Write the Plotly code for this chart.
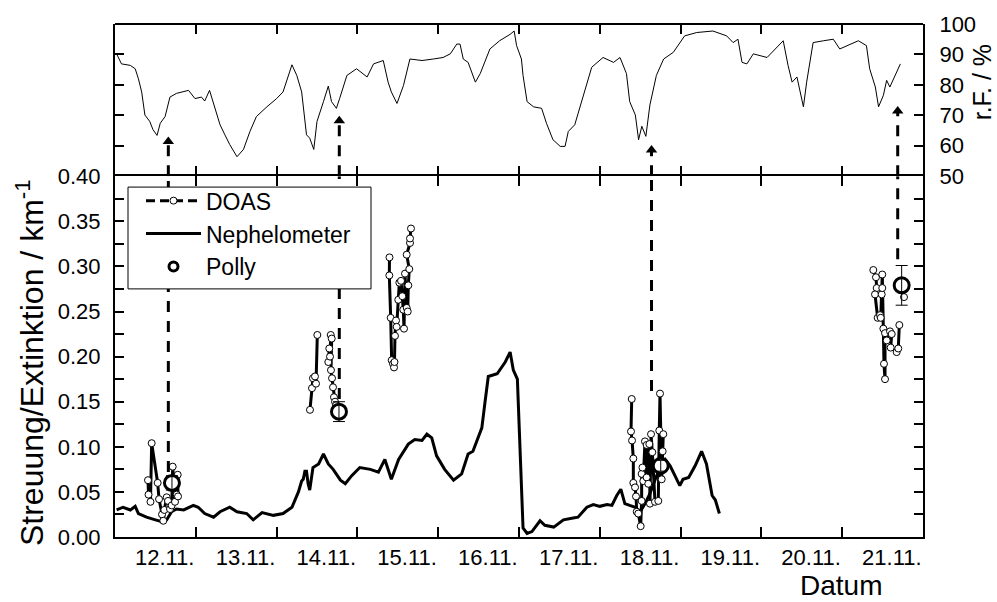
import plotly.graph_objects as go

# ---------------- data ----------------
# relative humidity (top panel)
rh_day = [12.02, 12.08, 12.19, 12.25, 12.29, 12.33, 12.37, 12.43, 12.47, 12.52, 12.56, 12.62, 12.68, 12.76,
          12.91, 12.99, 13.07, 13.11, 13.17, 13.22, 13.30, 13.36, 13.42, 13.51, 13.59, 13.67, 13.75, 13.88,
          14.00, 14.08, 14.19, 14.25, 14.31, 14.37, 14.41, 14.46, 14.50, 14.58, 14.64, 14.68, 14.74, 14.78,
          14.87, 14.99, 15.12, 15.20, 15.32, 15.38, 15.42, 15.49, 15.57, 15.65, 15.80, 15.94, 16.06, 16.15,
          16.23, 16.27, 16.31, 16.37, 16.46, 16.52, 16.64, 16.76, 16.89, 16.94, 16.97, 17.03, 17.05, 17.10,
          17.18, 17.28, 17.34, 17.42, 17.51, 17.57, 17.61, 17.69, 17.80, 17.90, 18.04, 18.17, 18.25, 18.33,
          18.37, 18.44, 18.48, 18.52, 18.57, 18.62, 18.70, 18.79, 18.91, 19.05, 19.20, 19.40, 19.57, 19.65,
          19.71, 19.76, 19.82, 19.90, 20.07, 20.17, 20.27, 20.33, 20.38, 20.44, 20.48, 20.52, 20.56, 20.64,
          20.77, 20.89, 20.97, 21.10, 21.20, 21.30, 21.34, 21.41, 21.45, 21.51, 21.55, 21.59, 21.65, 21.72]
rh_val = [90.2, 86.9, 86.4, 85.3, 82.0, 77.7, 70.1, 68.0, 65.3, 63.4, 67.4, 69.6, 76.0, 77.2,
          78.2, 75.5, 76.0, 74.7, 78.2, 73.9, 66.9, 63.6, 60.4, 56.4, 58.8, 64.7, 69.6, 72.8,
          75.5, 77.7, 86.6, 83.1, 77.7, 63.6, 62.5, 58.8, 68.0, 74.5, 79.6, 74.5, 72.3, 75.5,
          83.1, 85.3, 82.6, 86.9, 88.0, 80.9, 77.7, 73.9, 79.8, 88.5, 88.0, 88.5, 89.0, 90.2,
          93.4, 93.4, 88.5, 87.4, 80.9, 83.7, 91.8, 94.5, 96.6, 97.7, 92.9, 88.5, 83.1, 74.5,
          72.8, 72.3, 67.4, 62.0, 59.8, 59.8, 64.7, 66.9, 76.6, 85.8, 89.0, 87.4, 89.0, 83.7,
          74.5, 70.1, 62.0, 66.4, 63.1, 73.4, 83.1, 88.5, 90.7, 96.1, 97.2, 97.7, 96.1, 93.9,
          95.0, 87.4, 86.9, 90.2, 89.0, 91.8, 94.5, 86.4, 80.9, 82.6, 77.7, 72.8, 80.9, 93.9,
          94.5, 95.0, 91.8, 93.4, 94.5, 92.9, 85.3, 79.3, 72.8, 76.6, 81.5, 79.3, 83.1, 86.9]

# nephelometer scattering coefficient (bottom panel)
neph_day = [12.02, 12.10, 12.19, 12.25, 12.29, 12.39, 12.50, 12.58, 12.64, 12.70, 12.76, 12.85, 12.97,
            13.03, 13.11, 13.22, 13.30, 13.42, 13.51, 13.63, 13.71, 13.82, 13.96, 14.08, 14.19, 14.27,
            14.31, 14.33, 14.35, 14.37, 14.39, 14.41, 14.45, 14.52, 14.58, 14.64, 14.70, 14.79, 14.85,
            14.93, 15.03, 15.16, 15.26, 15.34, 15.42, 15.51, 15.63, 15.71, 15.80, 15.86, 15.92, 15.98,
            16.08, 16.19, 16.29, 16.37, 16.43, 16.54, 16.58, 16.62, 16.73, 16.83, 16.89, 16.93, 16.98,
            16.99, 17.05, 17.10, 17.16, 17.26, 17.32, 17.43, 17.55, 17.67, 17.73, 17.84, 17.92, 18.00,
            18.09, 18.15, 18.21, 18.26, 18.31, 18.37, 18.44, 18.50, 18.56, 18.62, 18.68, 18.75, 18.81,
            18.87, 18.93, 18.99, 19.03, 19.10, 19.18, 19.26, 19.32, 19.39, 19.43, 19.48]
neph_val = [0.030, 0.033, 0.030, 0.034, 0.026, 0.022, 0.019, 0.017, 0.019, 0.028, 0.031, 0.030, 0.035,
            0.033, 0.026, 0.022, 0.028, 0.033, 0.028, 0.026, 0.019, 0.027, 0.024, 0.026, 0.033, 0.050,
            0.062, 0.064, 0.073, 0.073, 0.059, 0.052, 0.077, 0.081, 0.092, 0.081, 0.075, 0.063, 0.059,
            0.068, 0.077, 0.075, 0.072, 0.086, 0.064, 0.086, 0.103, 0.108, 0.107, 0.114, 0.110, 0.090,
            0.075, 0.063, 0.070, 0.092, 0.095, 0.121, 0.150, 0.178, 0.181, 0.194, 0.205, 0.185, 0.175,
            0.150, 0.010, 0.004, 0.006, 0.018, 0.013, 0.011, 0.019, 0.021, 0.022, 0.033, 0.036, 0.034,
            0.036, 0.035, 0.046, 0.053, 0.037, 0.035, 0.033, 0.028, 0.037, 0.048, 0.063, 0.079, 0.086,
            0.079, 0.068, 0.057, 0.064, 0.066, 0.079, 0.095, 0.081, 0.046, 0.041, 0.026]

# DOAS extinction (None separates measurement periods)
doas_day = [12.408, 12.415, 12.439, 12.454, 12.528, 12.545, 12.582, 12.598, 12.610, 12.640, 12.656,
            12.681, 12.702, 12.714, 12.730, 12.743, 12.764, 12.776, 12.780, None,
            14.413, 14.438, 14.450, 14.475, 14.488, 14.504, None,
            14.640, 14.652, 14.661, 14.670, 14.682, 14.673, 14.686, 14.698, 14.710, 14.723, 14.735, None,
            15.397, 15.395, 15.412, 15.424, 15.441, 15.453, 15.459, 15.465, 15.478, 15.486, 15.506,
            15.519, 15.540, 15.556, 15.568, 15.577, 15.589, 15.610, 15.623, 15.630, 15.642, 15.610,
            15.651, 15.651, 15.663, None,
            18.395, 18.386, 18.399, 18.415, 18.415, 18.436, 18.448, 18.457, 18.476, 18.506, 18.518,
            18.518, 18.528, 18.538, 18.559, 18.580, 18.580, 18.600, 18.613, 18.621, 18.634, 18.650,
            18.683, 18.724, 18.736, 18.745, 18.766, 18.778, 18.786, None,
            21.385, 21.418, 21.427, 21.406, 21.439, 21.468, 21.477, 21.489, 21.496, 21.496, 21.509,
            21.517, 21.530, 21.530, 21.551, 21.592, 21.613, 21.600, 21.674, 21.694, 21.707, None,
            21.765]
doas_val = [0.063, 0.047, 0.039, 0.104, 0.060, 0.042, 0.025, 0.018, 0.030, 0.044, 0.040,
            0.031, 0.035, 0.078, 0.060, 0.039, 0.047, 0.069, 0.045, None,
            0.141, 0.165, 0.176, 0.178, 0.170, 0.224, None,
            0.194, 0.209, 0.200, 0.224, 0.220, 0.185, 0.176, 0.166, 0.155, 0.150, 0.146, None,
            0.310, 0.290, 0.243, 0.196, 0.192, 0.188, 0.194, 0.223, 0.240, 0.233, 0.263,
            0.282, 0.284, 0.267, 0.252, 0.231, 0.292, 0.254, 0.250, 0.279, 0.297, 0.313,
            0.326, 0.331, 0.342, None,
            0.153, 0.117, 0.107, 0.087, 0.060, 0.055, 0.045, 0.028, 0.026, 0.012, 0.040,
            0.070, 0.077, 0.062, 0.106, 0.102, 0.066, 0.059, 0.103, 0.037, 0.114, 0.094,
            0.039, 0.040, 0.118, 0.159, 0.064, 0.095, 0.114, None,
            0.296, 0.288, 0.276, 0.269, 0.243, 0.246, 0.243, 0.269, 0.276, 0.291, 0.231,
            0.192, 0.175, 0.226, 0.218, 0.228, 0.225, 0.210, 0.205, 0.209, 0.235, None,
            0.266]

# Polly lidar extinction with error
polly_day = [12.705, 14.772, 18.754, 21.736]
polly_val = [0.060, 0.139, 0.079, 0.279]
polly_err = [0.008, 0.011, 0.006, 0.022]

# arrows linking Polly to humidity
arrow_day = [12.66, 14.776, 18.64, 21.687]
arrow_rh = [61.4, 68.2, 58.6, 71.4]
arrow_end = [0.072, 0.153, 0.162, 0.308]

day_ticks = [13, 14, 15, 16, 17, 18, 19, 20, 21]
label_days = [12, 13, 14, 15, 16, 17, 18, 19, 20, 21]
day_labels = ['12.11.', '13.11.', '14.11.', '15.11.', '16.11.', '17.11.', '18.11.', '19.11.', '20.11.', '21.11.']

# ---------------- figure ----------------
FONT = 'Liberation Sans, Arial, sans-serif'
split = 365 / 519
PW, PH, L, B = 808, 519, 115, 537   # plot-area size and origin (px)


def px_x(px):
    return (px - L) / PW


def px_y(py):
    return (B - py) / PH


fig = go.Figure()

fig.add_trace(go.Scatter(x=rh_day, y=rh_val, xaxis='x2', yaxis='y2', mode='lines',
                         line=dict(color='black', width=1), showlegend=False, hoverinfo='skip'))

fig.add_trace(go.Scatter(x=neph_day, y=neph_val, mode='lines',
                         line=dict(color='black', width=3), showlegend=False))

fig.add_trace(go.Scatter(x=doas_day, y=doas_val, mode='lines+markers', connectgaps=False,
                         line=dict(color='black', width=3),
                         marker=dict(symbol='circle', size=7, color='white', line=dict(color='black', width=1)),
                         showlegend=False))

# dashed connector lines
for d, rh, e in zip(arrow_day, arrow_rh, arrow_end):
    fig.add_trace(go.Scatter(x=[d, d], y=[e, 0.40], mode='lines',
                             line=dict(color='black', width=3, dash='11px,9px'), showlegend=False))
    fig.add_trace(go.Scatter(x=[d, d], y=[50, rh], xaxis='x2', yaxis='y2', mode='lines',
                             line=dict(color='black', width=3, dash='11px,9px'), showlegend=False))
fig.add_trace(go.Scatter(x=arrow_day, y=arrow_rh, xaxis='x2', yaxis='y2', mode='markers',
                         marker=dict(symbol='triangle-up', size=10, color='black'), showlegend=False))

fig.add_trace(go.Scatter(x=polly_day, y=polly_val, mode='markers',
                         marker=dict(symbol='circle', size=15, color='white', line=dict(color='black', width=3)),
                         showlegend=False))
fig.add_trace(go.Scatter(x=polly_day, y=polly_val, mode='markers',
                         marker=dict(size=1, color='rgba(0,0,0,0)'),
                         error_y=dict(type='data', array=polly_err, color='black', thickness=1, width=6),
                         showlegend=False))

# legend entries
fig.add_trace(go.Scatter(x=[None], y=[None], mode='lines+markers', name='DOAS',
                         line=dict(color='black', width=3, dash='9px,5px'),
                         marker=dict(symbol='circle', size=7, color='white', line=dict(color='black', width=1))))
fig.add_trace(go.Scatter(x=[None], y=[None], mode='lines', name='Nephelometer',
                         line=dict(color='black', width=3)))
fig.add_trace(go.Scatter(x=[None], y=[None], mode='markers', name='Polly',
                         marker=dict(symbol='circle', size=9, color='white', line=dict(color='black', width=3))))

axis_common = dict(linecolor='black', linewidth=2, showgrid=False, zeroline=False,
                   tickcolor='black', tickwidth=2)

fig.update_layout(
    width=997, height=602,
    margin=dict(l=115, r=74, t=18, b=65),
    paper_bgcolor='white', plot_bgcolor='white',
    font=dict(family=FONT, size=22, color='black'),
    xaxis=dict(domain=[0, 1], range=[12, 22], anchor='y', showline=True,
               tickmode='array', tickvals=[d + 0.615 for d in label_days], ticktext=day_labels,
               ticks='', mirror='ticks',
               minor=dict(tickmode='array', tickvals=day_ticks, ticks='inside', ticklen=10,
                          tickwidth=2, tickcolor='black'),
               tickfont=dict(size=22), ticklabelstandoff=0, **axis_common),
    xaxis2=dict(domain=[0, 1], range=[12, 22], anchor='y2', matches='x', showline=False,
                tickmode='array', tickvals=day_ticks, ticks='inside', ticklen=10,
                showticklabels=False, mirror='ticks', **axis_common),
    yaxis=dict(domain=[0, split], range=[0, 0.40], anchor='x', showline=True,
               tickmode='linear', tick0=0, dtick=0.05, tickformat='.2f',
               ticks='inside', ticklen=9, mirror='ticks',
               minor=dict(dtick=0.025, ticks='inside', ticklen=9, tickwidth=2, tickcolor='black'),
               tickfont=dict(size=22), ticklabelstandoff=8, **axis_common),
    yaxis2=dict(domain=[split, 1], range=[50, 100], anchor='x2', side='right', showline=True,
                tickmode='linear', tick0=50, dtick=10,
                ticks='inside', ticklen=9, mirror='ticks',
                tickfont=dict(size=22), ticklabelstandoff=10, **axis_common),
    legend=dict(x=px_x(141), y=px_y(175), xanchor='left', yanchor='top',
                bgcolor='rgba(0,0,0,0)', borderwidth=0,
                font=dict(size=23), itemwidth=55, tracegroupgap=0),
    showlegend=True,
    shapes=[
        dict(type='line', xref='paper', yref='paper', x0=0, x1=1, y0=1, y1=1,
             line=dict(color='black', width=2)),
        dict(type='rect', xref='paper', yref='paper', x0=px_x(128), x1=px_x(371), y0=px_y(286), y1=px_y(183),
             fillcolor='white', line=dict(color='black', width=1), layer='above'),
    ],
    annotations=[
        dict(text='Streuung/Extinktion / km<sup>-1</sup>', xref='paper', yref='paper',
             x=px_x(30), y=px_y(361), xanchor='center', yanchor='middle', textangle=-90,
             showarrow=False, font=dict(size=32)),
        dict(text='Datum', xref='paper', yref='paper', x=px_x(841), y=0,
             xanchor='center', yanchor='top', yshift=-31, showarrow=False, font=dict(size=28)),
        dict(text='r.F. / %', xref='paper', yref='paper', x=px_x(982), y=px_y(77),
             xanchor='center', yanchor='middle', textangle=-90, showarrow=False, font=dict(size=25)),
    ],
)

fig.write_html('out.html')
